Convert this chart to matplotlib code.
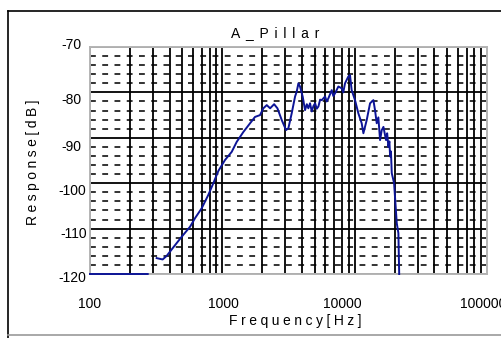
import numpy as np
import matplotlib
matplotlib.use('Agg')
import matplotlib.pyplot as plt
from matplotlib.transforms import ScaledTranslation
from matplotlib.lines import Line2D

# A-pillar frequency response
freq = [100, 273, np.nan, 319, 354, 380, 427, 493, 570, 622, 699, 783, 855, 933,
        1047, 1177, 1284, 1443, 1620, 1766, 1927, 2042, 2166, 2297, 2462, 2608,
        2812, 3031, 3155, 3344, 3546, 3650, 3757, 3862, 4046, 4217, 4350, 4467,
        4600, 4740, 4880, 5023, 5170, 5322, 5480, 5641, 5976, 6150, 6331, 6708,
        6900, 7108, 7530, 7979, 8200, 8454, 8957, 9220, 9490, 10060, 10660, 11300,
        11640, 12330, 13070, 13850, 14250, 14680, 15100, 15560, 16020, 16500,
        17250, 17600, 17980, 18300, 18530, 18800, 19070, 19860, 20800, 21400, 21700]
resp = [-120, -120, np.nan, -116.5, -116.8, -116.0, -114.1, -111.8, -109.6, -107.7,
        -105.5, -102.6, -100.0, -97.3, -94.9, -93.1, -90.9, -88.7, -86.8, -85.4,
        -85.0, -83.5, -82.8, -83.5, -82.6, -83.5, -86.1, -88.3, -87.9, -84.6,
        -80.9, -79.8, -78.0, -78.7, -80.9, -83.9, -82.6, -83.5, -82.4, -84.2,
        -83.0, -82.4, -83.6, -83.1, -81.6, -81.7, -80.9, -82.0, -81.3, -79.5,
        -80.8, -80.2, -78.7, -79.1, -80.0, -78.0, -76.5, -76.2, -79.5, -81.7,
        -84.6, -86.8, -89.0, -86.1, -82.4, -81.7, -83.9, -86.8, -85.5, -90.5,
        -88.3, -87.6, -90.5, -89.0, -92.0, -90.8, -94.1, -93.0, -97.8, -100.0,
        -108.8, -111.0, -120]

x_ticks = [100, 1000, 10000, 100000]
x_tick_labels = ['100', '1000', '10000', '100000']
y_ticks = [-120, -110, -100, -90, -80, -70]
y_tick_labels = ['-120', '-110', '-100', '-90', '-80', '-70']

title = 'A_Pillar'
xlabel = 'Frequency[Hz]'
ylabel = 'Response[dB]'


def spaced(s, sep='\u2005'):
    # the original export draws text with wide letter spacing
    return sep.join(s)


fonts = ['Liberation Sans', 'DejaVu Sans']
plt.rcParams['font.family'] = fonts

fig = plt.figure(figsize=(5.02, 3.38), dpi=100)
ax = fig.add_axes([90 / 502, 64 / 338, 397 / 502, 227 / 338])

ax.set_xscale('log')
ax.set_xlim(100, 100000)
ax.set_ylim(-120, -70)

# grid: dashed minor horizontals, solid verticals, solid major horizontals
for y in np.arange(-118, -70, 2):
    if y % 10:
        ax.axhline(y, color='#333333', lw=1.4, dashes=(3, 3.3), zorder=1)
for dec in [100, 1000, 10000]:
    for m in range(1, 10):
        ax.axvline(dec * m, color='black', lw=1.3, zorder=2)
for y in y_ticks:
    ax.axhline(y, color='black', lw=1.3, zorder=2)

ax.plot(freq, resp, color='#0c1496', lw=1.4, zorder=4, clip_on=False)

ax.set_xticks(x_ticks)
ax.set_xticklabels(x_tick_labels)
ax.set_yticks(y_ticks)
ax.set_yticklabels(y_tick_labels)
ax.minorticks_off()
ax.tick_params(axis='x', length=0, pad=16.5, labelsize=10)
ax.tick_params(axis='y', length=0, pad=2.5, labelsize=10)

for s in ax.spines.values():
    s.set_color('#b4b4b4')
    s.set_linewidth(1.4)

# small per-label shifts seen in the exported picture (pixels)
x_shift = [0, 1, -12, -4]
for lab, dx in zip(ax.get_xticklabels(), x_shift):
    lab.set_transform(lab.get_transform() + ScaledTranslation(dx / 100, 0, fig.dpi_scale_trans))
y_shift = [(0, -2), (0, -4), (0, -6), (-5, -8), (-5, -6), (-5, 4)]
for lab, (dx, dy) in zip(ax.get_yticklabels(), y_shift):
    lab.set_transform(lab.get_transform() + ScaledTranslation(dx / 100, dy / 100, fig.dpi_scale_trans))

ax.set_xlabel(spaced(xlabel), fontsize=10)
ax.xaxis.set_label_coords((295 - 90) / 397, (274 - 321) / 227)
ax.xaxis.label.set_va('center')
ax.set_ylabel(spaced(ylabel), fontsize=10)
ax.yaxis.set_label_coords((33 - 90) / 397, (274 - 162) / 227)
ax.yaxis.label.set_va('center')

ax.text((275 - 90) / 397, (274 - 33) / 227, spaced(title, '\u2004\u200a'),
        transform=ax.transAxes, ha='center', va='center', fontsize=10)

# frame around the exported figure
fig.add_artist(Line2D([8 / 502, 8 / 502], [0, 1 - 11 / 338], color='black', lw=1.2))
fig.add_artist(Line2D([8 / 502, 1], [1 - 11 / 338, 1 - 11 / 338], color='black', lw=1.2))
fig.add_artist(Line2D([8 / 502, 1], [3 / 338, 3 / 338], color='#9a9a9a', lw=1.2))

fig.savefig('out.png', dpi=100)
